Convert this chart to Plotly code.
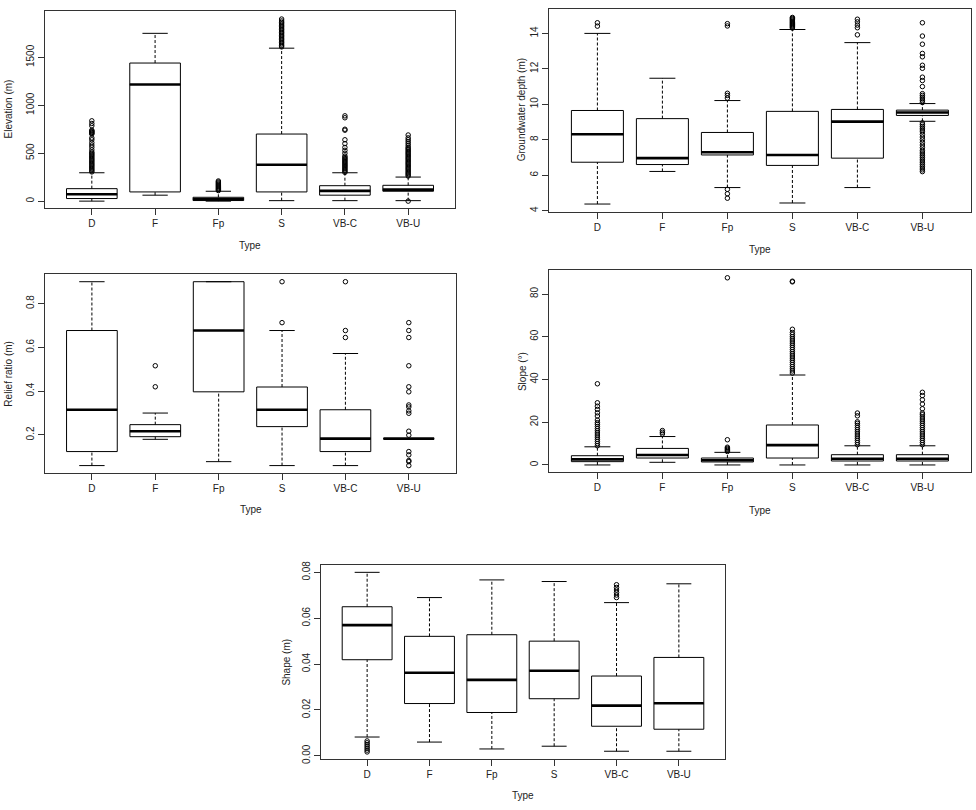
import plotly.graph_objects as go

types = ["D", "F", "Fp", "S", "VB-C", "VB-U"]
pos = [1, 2, 3, 4, 5, 6]

# Elevation (m)
elev_lo = [0, 62, 0, 5, 5, 5]
elev_q1 = [27, 96, 6, 96, 62, 103]
elev_med = [72, 1217, 20, 379, 107, 120]
elev_q3 = [130, 1441, 40, 700, 161, 165]
elev_hi = [296, 1751, 103, 1596, 296, 251]
elev_out = [
    [305, 318, 331, 344, 357, 370, 383, 396, 409, 422, 435, 448, 461, 474, 487, 500, 512,
     535, 562, 585, 610, 640, 660, 700, 708, 716, 724, 732, 740, 786, 810, 838],
    [],
    [110, 120, 130, 140, 150, 160, 170, 180, 190, 200, 210],
    [1610, 1625, 1640, 1655, 1670, 1685, 1700, 1715, 1730, 1745, 1760, 1775, 1790,
     1805, 1820, 1835, 1850, 1865, 1880, 1900],
    [300, 312, 324, 336, 348, 360, 372, 384, 396, 408, 420, 432, 444, 456, 470,
     500, 530, 560, 600, 640, 740, 750, 870, 890],
    [0, 262, 275, 288, 301, 314, 327, 340, 353, 366, 379, 392, 405, 418, 431, 444, 457,
     470, 483, 496, 509, 522, 535, 548, 561, 580, 600, 620, 640, 660, 690],
]

# Groundwater depth (m)
gw_lo = [4.37, 6.21, 5.3, 4.43, 5.3, 9.04]
gw_q1 = [6.73, 6.60, 7.14, 6.55, 6.96, 9.37]
gw_med = [8.31, 6.96, 7.29, 7.14, 9.02, 9.54]
gw_q3 = [9.65, 9.19, 8.41, 9.60, 9.71, 9.67]
gw_hi = [14.0, 11.47, 10.21, 14.22, 13.48, 10.04]
gw_out = [
    [14.41, 14.6],
    [],
    [4.7, 4.95, 5.2, 10.35, 10.5, 10.62, 14.42, 14.55],
    [14.3, 14.35, 14.4, 14.45, 14.5, 14.55, 14.6, 14.65, 14.7, 14.75, 14.8, 14.85, 14.9],
    [13.92, 14.32, 14.47, 14.65, 14.8],
    [10.1, 10.2, 10.3, 10.4, 10.5, 10.6, 11.0, 11.34, 11.53, 12.03, 12.2, 12.68, 12.87,
     13.39, 13.85, 14.6,
     8.95, 8.85, 8.75, 8.65, 8.55, 8.45, 8.3, 8.15, 8.0, 7.85, 7.7, 7.55, 7.4, 7.3,
     7.2, 7.1, 7.0, 6.9, 6.8, 6.7, 6.6, 6.5, 6.4, 6.3, 6.2],
]

# Relief ratio (m)
rr_lo = [0.060, 0.180, 0.078, 0.060, 0.060, 0.183]
rr_q1 = [0.124, 0.192, 0.397, 0.238, 0.124, 0.183]
rr_med = [0.315, 0.217, 0.677, 0.315, 0.183, 0.183]
rr_q3 = [0.677, 0.247, 0.900, 0.419, 0.315, 0.183]
rr_hi = [0.900, 0.300, 0.900, 0.677, 0.572, 0.183]
rr_out = [
    [],
    [0.420, 0.516],
    [],
    [0.713, 0.900],
    [0.645, 0.677, 0.900],
    [0.713, 0.677, 0.645, 0.516, 0.420, 0.397, 0.337, 0.328, 0.310, 0.299, 0.217,
     0.199, 0.124, 0.109, 0.083, 0.078, 0.060],
]

# Slope (°)
sl_lo = [0.0, 1.24, 0.0, 0.0, 0.0, 0.0]
sl_q1 = [1.55, 3.25, 1.40, 3.25, 1.86, 1.86]
sl_med = [2.63, 4.64, 2.17, 9.28, 2.94, 2.94]
sl_q3 = [4.33, 7.74, 3.25, 18.7, 4.80, 4.80]
sl_hi = [8.5, 13.3, 5.9, 42.1, 8.97, 8.97]
sl_out = [
    [9, 10, 11, 12, 13, 14, 15, 16, 17, 18, 19, 19.8, 21, 22.9, 24.4, 26, 27.5, 29.1, 38],
    [14.5, 15.3, 16.1],
    [6.3, 6.8, 7.3, 7.8, 8.3, 11.8, 87.6],
    [43, 44, 45, 46, 47, 48, 49, 50, 51, 52, 53, 54, 55, 56, 57, 58, 59, 60, 61, 62,
     63.5, 85.7, 86],
    [9.5, 10.5, 11.5, 12.5, 13.5, 14.5, 15.5, 16.5, 17.5, 18.5, 19.5, 20.2, 23, 24.3],
    [9.5, 10.5, 11.5, 12.5, 13.5, 14.5, 15.5, 16.5, 17.5, 18.5, 19.5, 20.5, 21.5,
     22.5, 23.5, 24.3, 26.3, 28.5, 30.5, 32.5, 34],
]

# Shape (m)
sh_lo = [0.0082, 0.0060, 0.0030, 0.0042, 0.0020, 0.0020]
sh_q1 = [0.0419, 0.0228, 0.0189, 0.0249, 0.0129, 0.0116]
sh_med = [0.0570, 0.0362, 0.0331, 0.0371, 0.0219, 0.0229]
sh_q3 = [0.0650, 0.0521, 0.0528, 0.0500, 0.0348, 0.0429]
sh_hi = [0.0800, 0.0690, 0.0767, 0.0760, 0.0668, 0.0750]
sh_out = [
    [0.0017, 0.0025, 0.0033, 0.0041, 0.0049, 0.0057, 0.0065],
    [],
    [],
    [],
    [0.0690, 0.0701, 0.0712, 0.0723, 0.0734, 0.0746],
    [],
]

W, H = 976, 810
FONT = "Liberation Sans, Arial, sans-serif"

fig = go.Figure()


def fx(px):
    return px / W


def fy(py):
    return 1 - py / H


def add_panel(n, lo, q1, med, q3, hi, out):
    xa = "x" if n == 1 else "x%d" % n
    ya = "y" if n == 1 else "y%d" % n
    # box bodies
    fig.add_trace(go.Box(
        x=pos, q1=q1, median=med, q3=q3, lowerfence=q1, upperfence=q3,
        width=0.8, whiskerwidth=0, fillcolor="white", boxpoints=False,
        line=dict(color="black", width=1), xaxis=xa, yaxis=ya,
        showlegend=False, hoverinfo="skip"))
    # dashed whiskers
    wx, wy = [], []
    for i, p in enumerate(pos):
        wx += [p, p, None, p, p, None]
        wy += [q3[i], hi[i], None, lo[i], q1[i], None]
    fig.add_trace(go.Scatter(x=wx, y=wy, mode="lines", xaxis=xa, yaxis=ya,
                             line=dict(color="black", width=1, dash="3px,2px"),
                             showlegend=False, hoverinfo="skip"))
    # staples
    sx, sy = [], []
    for i, p in enumerate(pos):
        sx += [p - 0.2, p + 0.2, None, p - 0.2, p + 0.2, None]
        sy += [hi[i], hi[i], None, lo[i], lo[i], None]
    fig.add_trace(go.Scatter(x=sx, y=sy, mode="lines", xaxis=xa, yaxis=ya,
                             line=dict(color="black", width=1),
                             showlegend=False, hoverinfo="skip"))
    # medians
    mx, my = [], []
    for i, p in enumerate(pos):
        mx += [p - 0.4, p + 0.4, None]
        my += [med[i], med[i], None]
    fig.add_trace(go.Scatter(x=mx, y=my, mode="lines", xaxis=xa, yaxis=ya,
                             line=dict(color="black", width=2.6),
                             showlegend=False, hoverinfo="skip"))
    # outliers
    ox, oy = [], []
    for i, p in enumerate(pos):
        ox += [p] * len(out[i])
        oy += out[i]
    fig.add_trace(go.Scatter(x=ox, y=oy, mode="markers", xaxis=xa, yaxis=ya,
                             marker=dict(symbol="circle-open", size=4.5, color="black",
                                         line=dict(width=1)),
                             showlegend=False, hoverinfo="skip"))


add_panel(1, elev_lo, elev_q1, elev_med, elev_q3, elev_hi, elev_out)
add_panel(2, gw_lo, gw_q1, gw_med, gw_q3, gw_hi, gw_out)
add_panel(3, rr_lo, rr_q1, rr_med, rr_q3, rr_hi, rr_out)
add_panel(4, sl_lo, sl_q1, sl_med, sl_q3, sl_hi, sl_out)
add_panel(5, sh_lo, sh_q1, sh_med, sh_q3, sh_hi, sh_out)

# panel frames in pixels: left, right, top, bottom
frames = [(45, 455, 6.7, 206.7), (549.3, 970.5, 5, 210), (45, 455.7, 273.3, 474.3),
          (549.3, 970.5, 269.3, 473.7), (321, 725, 567.3, 763.3)]
yranges = [[-76, 1988], [3.94, 15.38], [0.026, 0.934], [-3.5, 91.1], [-0.0013, 0.0832]]
yticks = [[0, 500, 1000, 1500], [4, 6, 8, 10, 12, 14], [0.2, 0.4, 0.6, 0.8],
          [0, 20, 40, 60, 80], [0, 0.02, 0.04, 0.06, 0.08]]
yfmt = ["", "", "", "", ".2f"]
ytitles = ["Elevation (m)", "Groundwater depth (m)", "Relief ratio (m)", "Slope (°)", "Shape (m)"]
ytitle_x = [9, 521, 9, 522.7, 286.7]
type_xy = [(250, 244), (760, 248), (250.7, 511), (760, 512.3), (523, 800)]

tickfont = dict(family=FONT, size=10, color="#222")
layout = dict(width=W, height=H, margin=dict(l=0, r=0, t=0, b=0),
              paper_bgcolor="white", plot_bgcolor="white", showlegend=False)
annotations = []
for k in range(5):
    l, r, t, b = frames[k]
    sfx = "" if k == 0 else str(k + 1)
    layout["xaxis" + sfx] = dict(
        domain=[fx(l), fx(r)], range=[0.26, 6.74], tickvals=pos, ticktext=types,
        showgrid=False, zeroline=False, showline=True, mirror=True,
        linecolor="#333", linewidth=1, ticks="outside", ticklen=6, tickcolor="#333",
        ticklabelstandoff=0, tickfont=tickfont,
        anchor="y" + sfx)
    layout["yaxis" + sfx] = dict(
        domain=[fy(b), fy(t)], range=yranges[k], tickvals=yticks[k], tickformat=yfmt[k],
        showgrid=False, zeroline=False, showline=True, mirror=True,
        linecolor="#333", linewidth=1, ticks="outside", ticklen=6, tickcolor="#333",
        tickangle=-90, ticklabelstandoff=0, tickfont=tickfont,
        anchor="x" + sfx)
    annotations.append(dict(
        text=ytitles[k], x=fx(ytitle_x[k]), y=fy((t + b) / 2), xref="paper", yref="paper",
        textangle=-90, showarrow=False, xanchor="center", yanchor="middle",
        font=dict(family=FONT, size=10, color="#222")))
    annotations.append(dict(
        text="Type", x=fx(type_xy[k][0]), y=fy(type_xy[k][1]), xref="paper", yref="paper",
        showarrow=False, xanchor="center", yanchor="middle",
        font=dict(family=FONT, size=10, color="#222")))

layout["annotations"] = annotations
fig.update_layout(**layout)

# drop the browser's default page margin so the figure sits at the window origin
fig.write_html("out.html", config={"displayModeBar": False},
               post_script="document.body.style.margin='0';document.body.style.overflow='hidden';")
